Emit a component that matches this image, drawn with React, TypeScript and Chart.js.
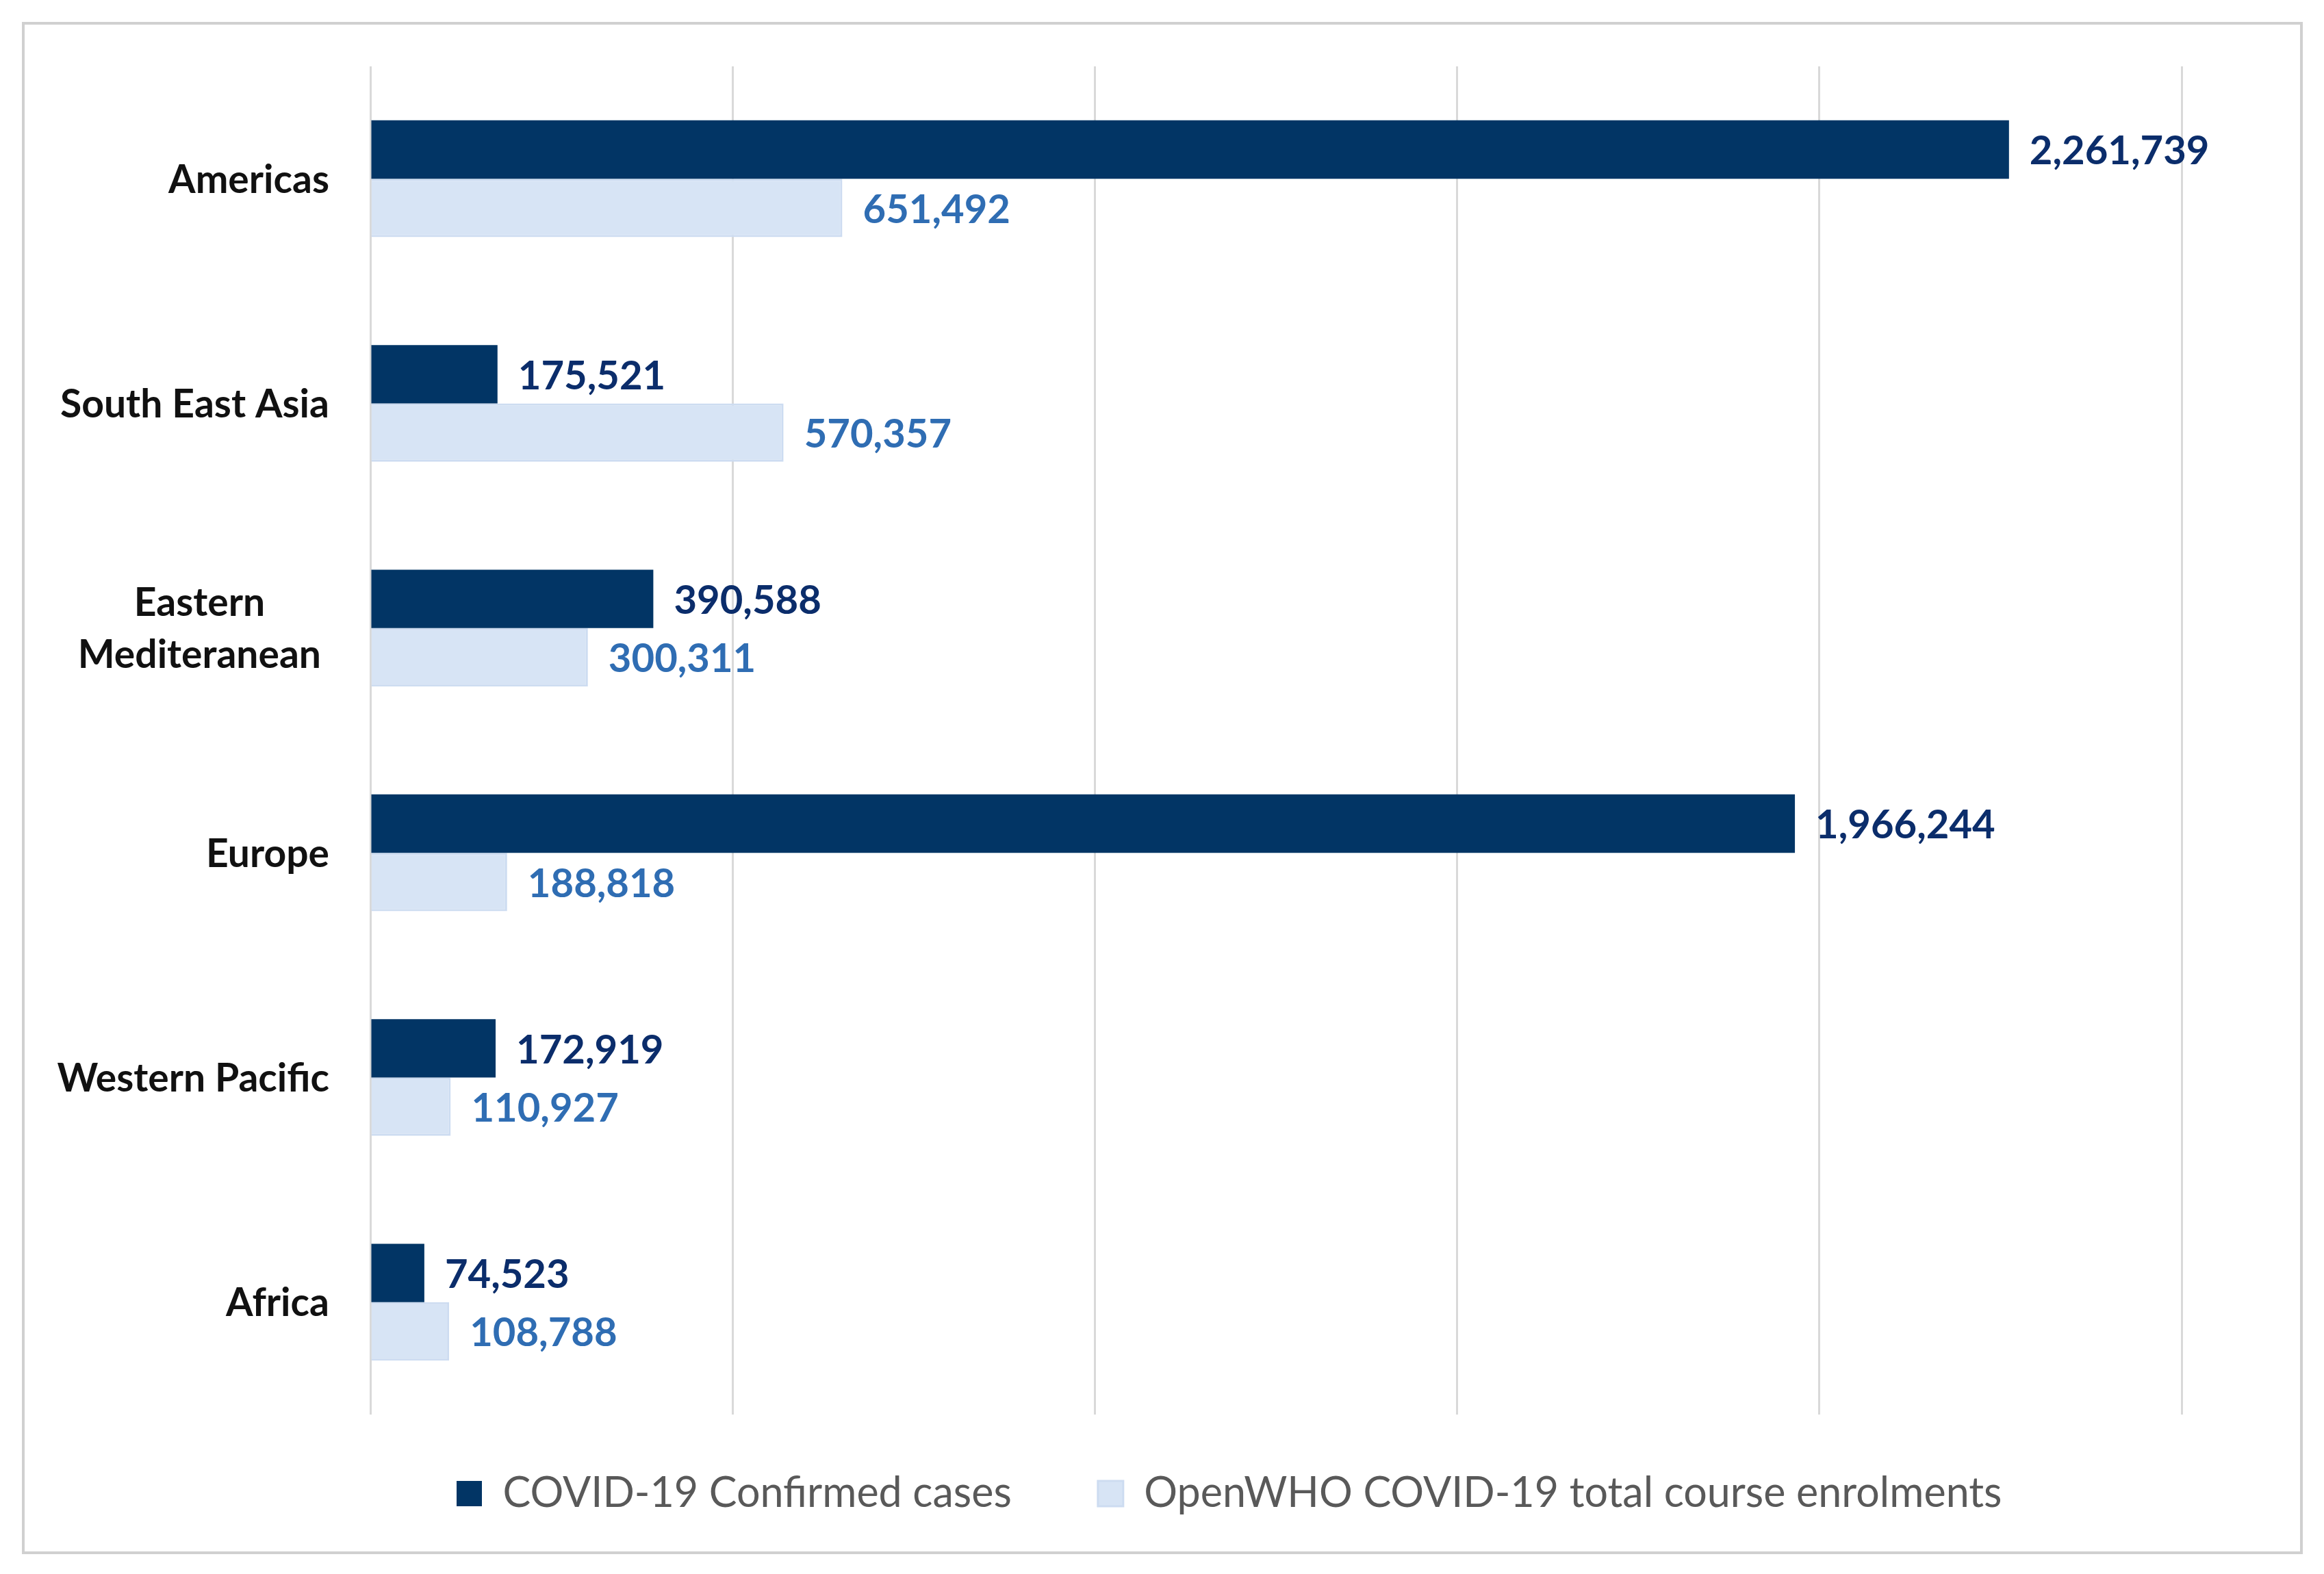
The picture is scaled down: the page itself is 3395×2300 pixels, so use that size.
import React, { useEffect, useRef } from "react";
import { Chart, registerables } from "chart.js";

Chart.register(...registerables);

const regions: (string | string[])[] = [
  "Americas",
  "South East Asia",
  ["Eastern", "Mediteranean"],
  "Europe",
  "Western Pacific",
  "Africa",
];
const confirmedCases = [2261739, 175521, 390588, 1966244, 172919, 74523];
const courseEnrolments = [651492, 570357, 300311, 188818, 110927, 108788];
const seriesNames = ["COVID-19 Confirmed cases", "OpenWHO COVID-19 total course enrolments"];
const axisMax = 2500000;
const axisStep = 500000;

const FONT = "Lato, 'Open Sans', sans-serif";
const barColors = ["#023565", "#d7e4f5"];
const barBorders = ["#023565", "#cddcf1"];
const labelColors = ["#0b2d6b", "#2f6db3"];

const valueLabels = {
  id: "valueLabels",
  afterDatasetsDraw(chart: any) {
    const ctx = chart.ctx;
    chart.data.datasets.forEach((ds: any, di: number) => {
      const meta = chart.getDatasetMeta(di);
      meta.data.forEach((bar: any, i: number) => {
        const v = ds.data[i] as number;
        ctx.save();
        ctx.font = `bold 58px ${FONT}`;
        ctx.fillStyle = labelColors[di];
        ctx.textAlign = "left";
        ctx.textBaseline = "middle";
        ctx.fillText(v.toLocaleString("en-US"), bar.x + 30, bar.y + 3);
        ctx.restore();
      });
    });
  },
};

const categoryLabels = {
  id: "categoryLabels",
  afterDraw(chart: any) {
    const ctx = chart.ctx;
    const yScale = chart.scales.y;
    const right = chart.chartArea.left - 60;
    const lineH = 76;
    ctx.save();
    ctx.font = `bold 57px ${FONT}`;
    ctx.fillStyle = "#111111";
    ctx.textAlign = "center";
    ctx.textBaseline = "middle";
    (chart.data.labels as any[]).forEach((lab, i) => {
      const lines: string[] = Array.isArray(lab) ? lab : [lab];
      const yc = yScale.getPixelForValue(i);
      const maxW = Math.max(...lines.map((l) => ctx.measureText(l).width));
      const cx = right - maxW / 2 - (lines.length > 1 ? 12 : 0);
      lines.forEach((l, k) => {
        ctx.fillText(l, cx, yc + 2 + (k - (lines.length - 1) / 2) * lineH);
      });
    });
    ctx.restore();
  },
};

export default function App() {
  const ref = useRef<HTMLCanvasElement | null>(null);
  useEffect(() => {
    document.body.style.margin = "0";
    const canvas = ref.current!;
    const chart = new Chart(canvas, {
      type: "bar",
      data: {
        labels: regions as any,
        datasets: [
          {
            label: seriesNames[0],
            data: confirmedCases,
            backgroundColor: barColors[0],
            borderColor: barBorders[0],
            borderWidth: 0,
          },
          {
            label: seriesNames[1],
            data: courseEnrolments,
            backgroundColor: barColors[1],
            borderColor: barBorders[1],
            borderWidth: 3,
          },
        ],
      },
      options: {
        indexAxis: "y",
        animation: false,
        responsive: false,
        devicePixelRatio: 1,
        datasets: { bar: { categoryPercentage: 0.52, barPercentage: 1 } },
        layout: { padding: { left: 0, top: 97, right: 208, bottom: 77 } },
        scales: {
          x: {
            type: "linear",
            min: 0,
            max: axisMax,
            ticks: { display: false, stepSize: axisStep },
            grid: { color: "#d9d9d9", lineWidth: 3, drawTicks: false },
            border: { display: false },
            afterFit: (s: any) => {
              s.height = 0;
            },
          },
          y: {
            type: "category",
            ticks: { display: false },
            grid: { display: false },
            border: { display: false },
            afterFit: (s: any) => {
              s.width = 541;
            },
          },
        },
        plugins: {
          legend: {
            position: "bottom",
            fullSize: false,
            align: "start",
            title: {
              display: true,
              text: "",
              font: { size: 1, lineHeight: 1 },
              padding: { top: -42, bottom: 0 },
            },
            labels: {
              font: { family: FONT, size: 61 },
              color: "#595959",
              boxWidth: 37,
              boxHeight: 37,
              padding: 126,
            },
          },
          tooltip: { enabled: false },
        },
      },
      plugins: [valueLabels, categoryLabels],
    });
    return () => chart.destroy();
  }, []);

  return (
    <div style={{ position: "relative", width: 3395, height: 2300, background: "#ffffff" }}>
      <div
        style={{
          position: "absolute",
          left: 32,
          top: 32,
          width: 3332,
          height: 2239,
          boxSizing: "border-box",
          border: "4px solid #d0d0d0",
        }}
      />
      <canvas
        ref={ref}
        width={3395}
        height={2300}
        style={{ position: "absolute", left: 0, top: 0, width: 3395, height: 2300 }}
      />
    </div>
  );
}
